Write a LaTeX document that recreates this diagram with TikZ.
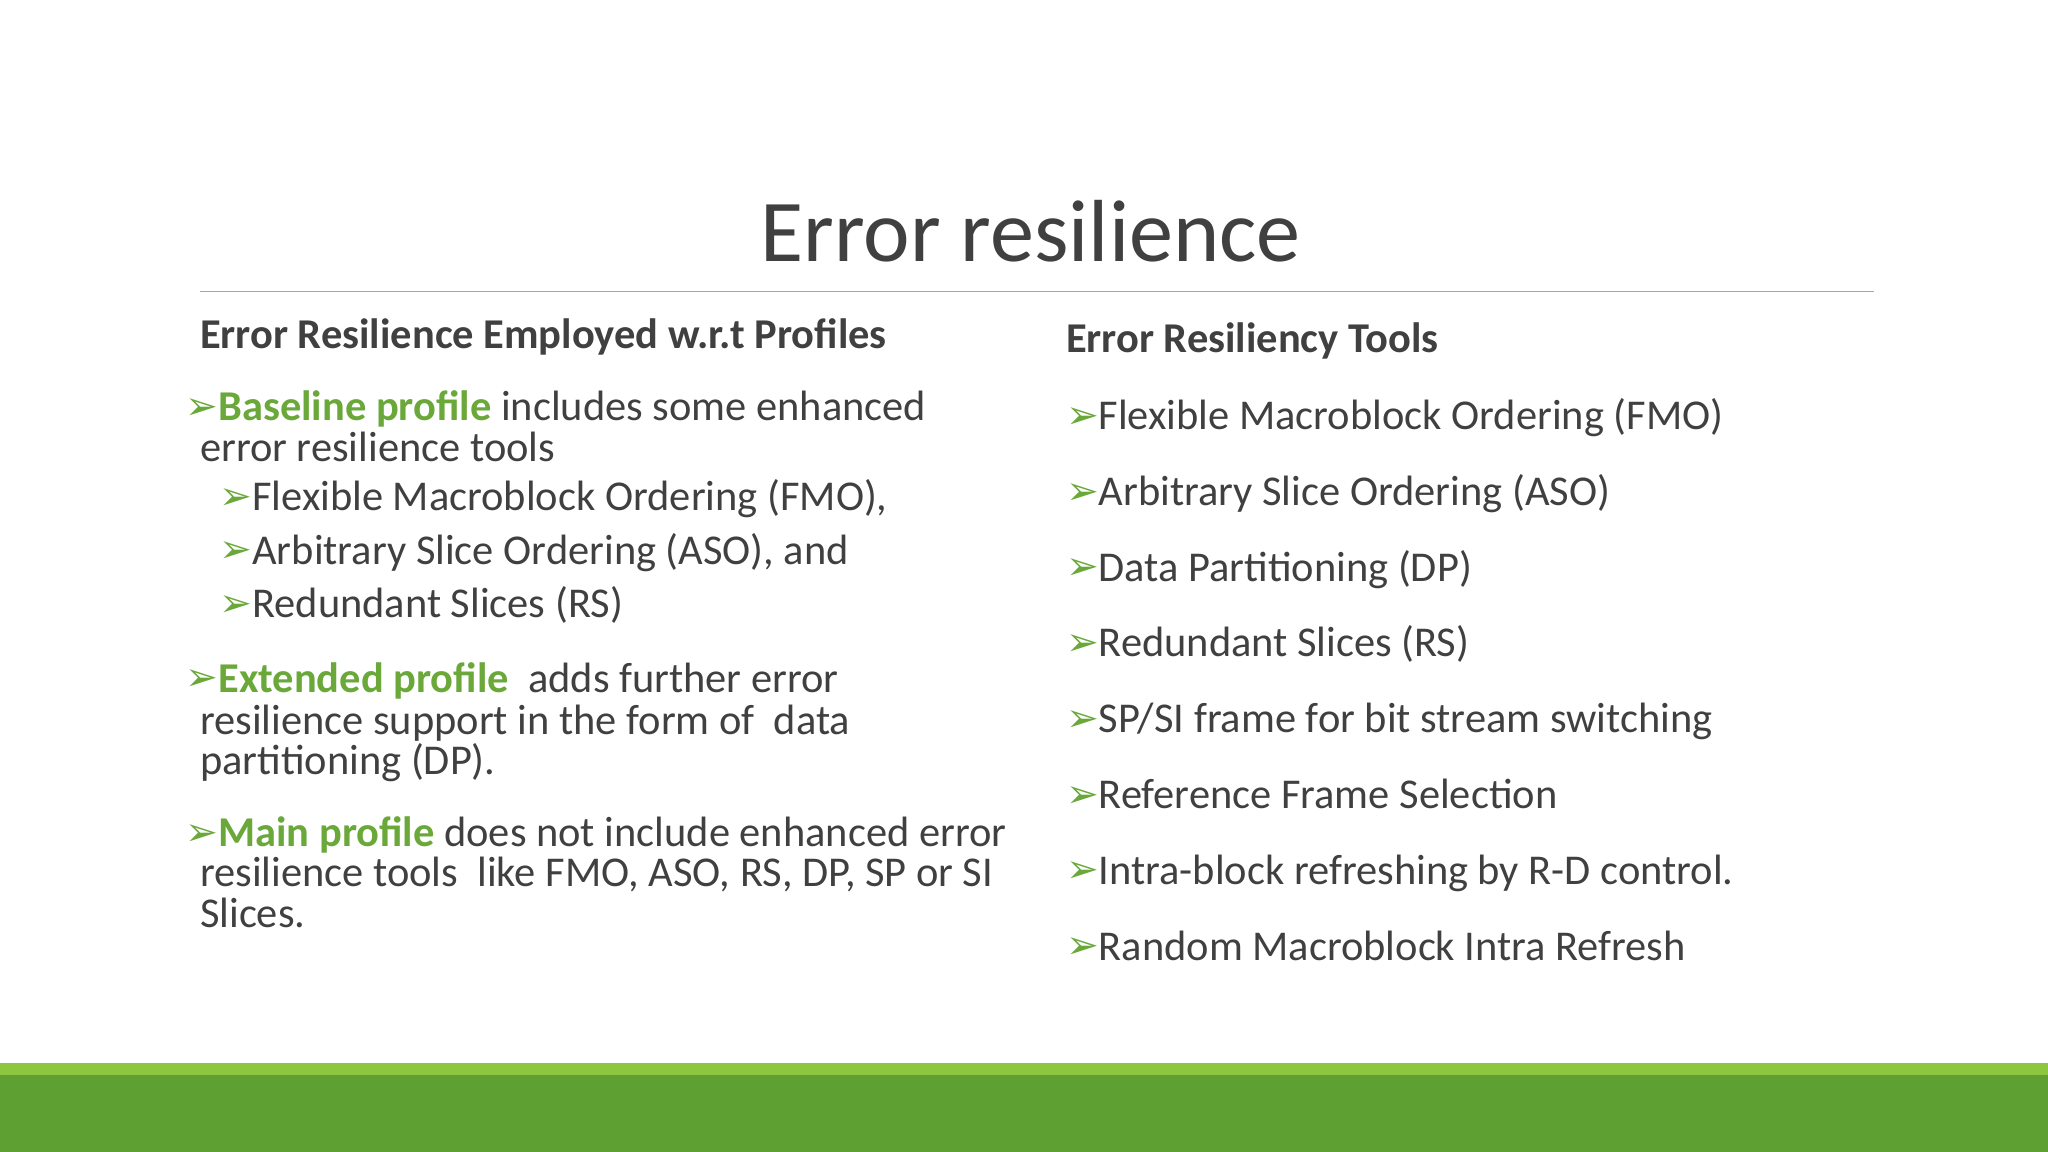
\documentclass[tikz,border=0pt]{standalone}
\usepackage{fontspec}
\setmainfont{Carlito}
\newfontfamily\bulfont{DejaVu Sans}
\definecolor{txt}{HTML}{404040}
\definecolor{grn}{HTML}{6AA83A}
\definecolor{lgrn}{HTML}{8DC63F}
\definecolor{dgrn}{HTML}{5FA033}
\begin{document}
\begin{tikzpicture}[x=1pt,y=-1pt,
  ln/.style={anchor=base west,inner sep=0pt,text=txt,font=\fontsize{32.5}{38}\selectfont},
  hd/.style={anchor=base west,inner sep=0pt,text=txt,font=\fontsize{32.5}{38}\selectfont\bfseries},
  bl/.style={anchor=base west,inner sep=0pt,text=grn,font=\fontsize{30}{34}\bulfont}]
\useasboundingbox (0,0) rectangle (1568,882);
\fill[white] (0,0) rectangle (1568,882);
\fill[lgrn] (0,814) rectangle (1568,823);
\fill[dgrn] (0,823) rectangle (1568,882);
\node[anchor=base,inner sep=0pt,text=txt,font=\fontsize{67.5}{78}\selectfont] (title) at (789,200) {Error resilience};
\draw[gray!70,line width=1pt] (153,223) -- (1435,223);
\node[hd] (lh) at (153,267) {Error Resilience Employed w.r.t Profiles};
\node[hd] (rh) at (816,270) {Error Resiliency Tools};
% left column
\node[bl] (b1) at (142,321) {➢};
\node[ln] (l1) at (167,322) {\textcolor{grn}{\bfseries Baseline profile} includes some enhanced};
\node[ln] (l2) at (153,353) {error resilience tools};
\node[bl] (s1) at (168,390) {➢};
\node[ln] (l3) at (193,391) {Flexible Macroblock Ordering (FMO),};
\node[bl] (s2) at (168,431) {➢};
\node[ln] (l4) at (193,432) {Arbitrary Slice Ordering (ASO), and};
\node[bl] (s3) at (168,472) {➢};
\node[ln] (l5) at (193,473) {Redundant Slices (RS)};
\node[bl] (b2) at (142,529) {➢};
\node[ln] (l6) at (167,530) {\textcolor{grn}{\bfseries Extended profile}\ \ adds further error};
\node[ln] (l7) at (153,562) {resilience support in the form of\ \ data};
\node[ln] (l8) at (153,593) {partitioning (DP).};
\node[bl] (b3) at (142,647) {➢};
\node[ln] (l9) at (167,648) {\textcolor{grn}{\bfseries Main profile} does not include enhanced error};
\node[ln] (l10) at (153,679) {resilience tools\ \ like FMO, ASO, RS, DP, SP or SI};
\node[ln] (l11) at (153,710) {Slices.};
% right column
\foreach \t [count=\i] in {Flexible Macroblock Ordering (FMO),Arbitrary Slice Ordering (ASO),Data Partitioning (DP),Redundant Slices (RS),SP/SI frame for bit stream switching,Reference Frame Selection,Intra-block refreshing by R-D control.,Random Macroblock Intra Refresh}{
  \node[bl] (rb\i) at (816,{328+58*(\i-1)}) {➢};
  \node[ln] (r\i) at (841,{329+58*(\i-1)}) {\t};
}
\end{tikzpicture}
\end{document}
